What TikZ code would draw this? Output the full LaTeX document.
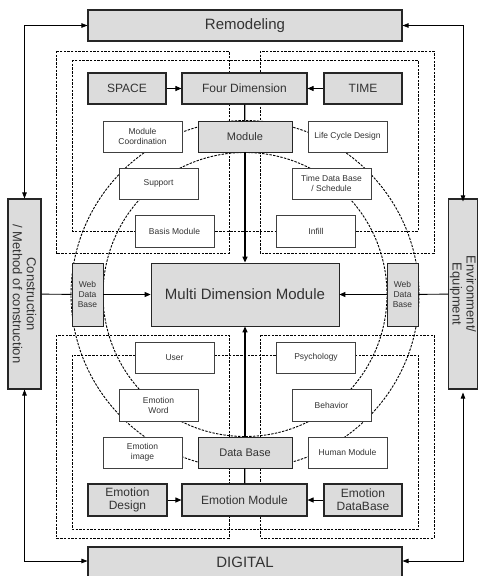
\documentclass[tikz,border=0pt]{standalone}
\usepackage{fontspec}
\setmainfont{Liberation Sans}
\usetikzlibrary{positioning,calc,arrows.meta}

\definecolor{boxgray}{HTML}{DCDCDC}
\definecolor{inkgray}{HTML}{333333}

\begin{document}
\begin{tikzpicture}[x=1pt,y=-1pt,
  graybox/.style={draw=black!85,line width=1.1pt,fill=boxgray,text=inkgray,inner sep=1pt,align=center},
  whitebox/.style={draw=black!75,line width=0.7pt,fill=white,text=inkgray,inner sep=1pt,align=center,
    minimum width=79pt,minimum height=31pt,font=\fontsize{8.5}{10}\selectfont},
  dashline/.style={line width=0.9pt,dash pattern=on 2.4pt off 1.3pt},
  arr/.style={line width=0.9pt,-{Triangle[length=6pt,width=5pt]}},
  both/.style={line width=0.7pt,{Triangle[length=6pt,width=4.5pt]}-{Triangle[length=6pt,width=4.5pt]}}]
  \useasboundingbox (0,0) rectangle (478,576);
  \clip (0,0) rectangle (478,576);

  % dashed frames and circles
  \draw[dashline] (56,51) rectangle (229,253);
  \draw[dashline] (260,51) rectangle (434,253);
  \draw[dashline] (72,60) rectangle (418,231);
  \draw[dashline] (56,335) rectangle (229,538);
  \draw[dashline] (260,335) rectangle (434,538);
  \draw[dashline] (72,355) rectangle (418,529);
  \draw[dashline] (245,294.5) circle[radius=174pt];
  \draw[dashline] (245,294.5) circle[radius=142pt];

  % outer boxes
  \node[graybox,minimum width=314pt,minimum height=31pt,font=\fontsize{15}{16}\selectfont] at (245,25.5) (remod) {Remodeling};
  \node[graybox,minimum width=314pt,minimum height=31pt,font=\fontsize{15}{16}\selectfont] at (245,562.5) (digital) {DIGITAL};
  \node[graybox,minimum width=190pt,minimum height=33pt,rotate=-90,font=\fontsize{13}{14}\selectfont] at (24.5,294) (constr) {Construction\\/ Method of construction};
  \node[graybox,minimum width=190pt,minimum height=28pt,rotate=-90,font=\fontsize{13}{14}\selectfont] at (463,294) (env) {Environment/\\Equipment};

  % top half
  \node[graybox,minimum width=78pt,minimum height=31pt,font=\fontsize{12}{13}\selectfont] at (127,88.5) (space) {SPACE};
  \node[graybox,minimum width=125pt,minimum height=31pt,font=\fontsize{12}{13}\selectfont] at (244.5,88.5) (fourdim) {Four Dimension};
  \node[graybox,minimum width=78pt,minimum height=31pt,font=\fontsize{12}{13}\selectfont] at (363,88.5) (time) {TIME};
  \node[graybox,minimum width=94pt,minimum height=31pt,line width=0.9pt,font=\fontsize{11}{12}\selectfont] at (245,136.5) (module) {Module};
  \node[whitebox] at (142.5,136.5) (modcoord) {Module\\Coordination};
  \node[whitebox] at (347.5,136.5) (lifecycle) {Life Cycle Design};
  \node[whitebox] at (158.5,183.5) (support) {Support};
  \node[whitebox] at (331.5,183.5) (timedb) {Time Data Base\\/ Schedule};
  \node[whitebox,minimum height=32pt] at (174.5,231) (basis) {Basis Module};
  \node[whitebox,minimum height=32pt] at (316,231) (infill) {Infill};

  % middle row
  \node[graybox,minimum width=31pt,minimum height=63pt,line width=0.8pt,font=\fontsize{8.5}{10}\selectfont] at (87.5,294.5) (webl) {Web\\Data\\Base};
  \node[graybox,minimum width=31pt,minimum height=63pt,line width=0.8pt,font=\fontsize{8.5}{10}\selectfont] at (402.5,294.5) (webr) {Web\\Data\\Base};
  \node[graybox,minimum width=188pt,minimum height=63pt,line width=0.8pt,font=\fontsize{15}{16}\selectfont] at (245,294.5) (mdm) {Multi Dimension Module};

  % bottom half
  \node[whitebox] at (174.5,357.5) (user) {User};
  \node[whitebox] at (316,357.5) (psych) {Psychology};
  \node[whitebox,minimum height=32pt] at (158.5,405) (emoword) {Emotion\\Word};
  \node[whitebox,minimum height=32pt] at (331.5,405) (behavior) {Behavior};
  \node[whitebox] at (142.5,452.5) (emoimage) {Emotion\\image};
  \node[graybox,minimum width=94pt,minimum height=31pt,line width=0.9pt,font=\fontsize{11}{12}\selectfont] at (245,452.5) (database) {Data Base};
  \node[whitebox] at (347.5,452.5) (humanmod) {Human Module};
  \node[graybox,minimum width=79pt,minimum height=32pt,font=\fontsize{12}{13}\selectfont] at (127.5,500) (emodesign) {Emotion\\Design};
  \node[graybox,minimum width=125pt,minimum height=32pt,font=\fontsize{12}{13}\selectfont] at (244.5,500) (emomodule) {Emotion Module};
  \node[graybox,minimum width=78pt,minimum height=32pt,font=\fontsize{12}{13}\selectfont] at (363,500) (emodb) {Emotion\\DataBase};

  % connectors
  \draw[arr] (space) -- (fourdim);
  \draw[arr] (time) -- (fourdim);
  \draw[line width=1.3pt] (fourdim) -- (module);
  \draw[arr,line width=1.3pt] (module) -- (mdm);
  \draw[line width=0.9pt] (constr) -- (webl);
  \draw[arr] (webl) -- (mdm);
  \draw[line width=0.9pt] (env) -- (webr);
  \draw[arr] (webr) -- (mdm);
  \draw[line width=1.3pt] (emomodule) -- (database);
  \draw[arr,line width=1.3pt] (database) -- (mdm);
  \draw[arr] (emodesign) -- (emomodule);
  \draw[arr] (emodb) -- (emomodule);
  \draw[both] (remod.west) -| (constr.west);
  \draw[both] (remod.east) -| ([yshift=-3pt]env.west);
  \draw[both] (digital.west |- 0,561) -| (constr.east);
  \draw[both] (digital.east |- 0,561) -| ([yshift=-3pt]env.east);
\end{tikzpicture}
\end{document}
